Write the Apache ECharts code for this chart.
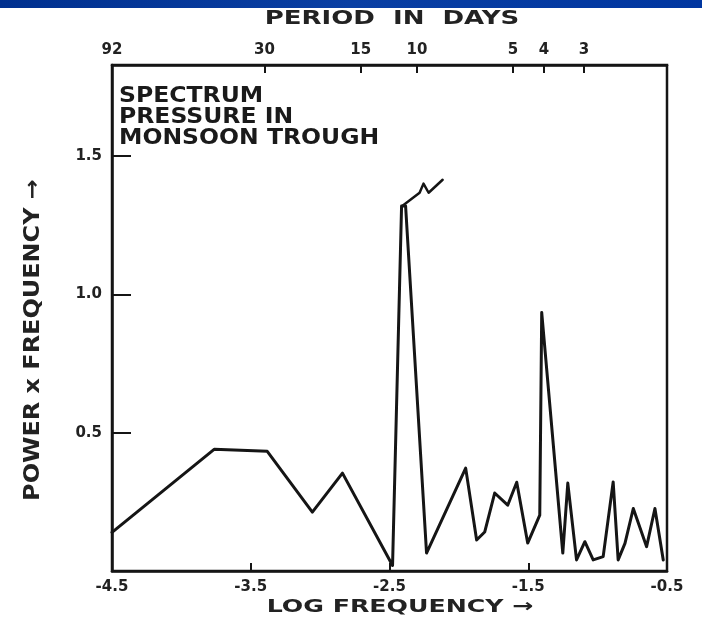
<!DOCTYPE html>
<html>
<head>
<meta charset="utf-8">
<script src="https://cdn.jsdelivr.net/npm/echarts@6/dist/echarts.min.js"></script>
<style>
html,body{margin:0;padding:0;background:#fff;}
#chart{width:702px;height:627px;}
</style>
</head>
<body>
<div id="chart"></div>
<script>
// ---- data ----
const logFreq = [-4.5, -3.764, -3.381, -3.056, -2.839, -2.478, -2.413, -2.384, -2.233, -1.951,
  -1.872, -1.814, -1.742, -1.648, -1.583, -1.504, -1.417, -1.403, -1.251, -1.215,
  -1.152, -1.092, -1.032, -0.960, -0.888, -0.852, -0.803, -0.743, -0.647, -0.587, -0.527];
const power = [0.14, 0.44, 0.433, 0.213, 0.354, 0.02, 1.32, 1.32, 0.065, 0.372,
  0.112, 0.141, 0.282, 0.238, 0.321, 0.101, 0.202, 0.935, 0.065, 0.318,
  0.04, 0.106, 0.04, 0.052, 0.322, 0.04, 0.10, 0.226, 0.088, 0.226, 0.04];
// axis-break marker drawn at the top of the off-scale peak
const breakX = [-2.406, -2.283, -2.255, -2.218, -2.117];
const breakY = [1.321, 1.368, 1.401, 1.368, 1.415];
const xTicks = [-4.5, -3.5, -2.5, -1.5, -0.5];
const yTicks = [0.5, 1.0, 1.5];
const periodDays = [92, 30, 15, 10, 5, 4, 3];
const titleTop = 'PERIOD  IN  DAYS';
const boxLines = ['SPECTRUM', 'PRESSURE IN', 'MONSOON TROUGH'];
const xName = 'LOG FREQUENCY \u2192';
const yName = 'POWER x FREQUENCY \u2192';

const X_MIN = -4.5, X_MAX = -0.5;
// log frequency (natural log of 1/period) of each period, kept inside the axis range
const periodPos = periodDays.map(p => Math.max(X_MIN, -Math.log(p)));
const ink = '#151515';
const font = '"DejaVu Sans", sans-serif';

const chart = echarts.init(document.getElementById('chart'), null, {renderer: 'canvas'});

function zip(a, b) { return a.map((v, i) => [v, b[i]]); }
function periodLabel(v) {
  let best = 0, d = Infinity;
  periodPos.forEach((p, i) => { const e = Math.abs(p - v); if (e < d) { d = e; best = i; } });
  return String(periodDays[best]);
}

const option = {
  animation: false,
  backgroundColor: '#ffffff',
  grid: {left: 112, right: 35, top: 65, bottom: 56, show: true, borderColor: ink, borderWidth: 2.5, containLabel: false},
  xAxis: [{
    type: 'value', min: X_MIN, max: X_MAX, interval: 1, position: 'bottom',
    axisLine: {show: true, lineStyle: {color: ink, width: 2.5}},
    axisTick: {show: true, inside: true, length: 8, lineStyle: {color: ink, width: 2}, customValues: xTicks},
    axisLabel: {show: true, color: '#222', fontFamily: font, fontWeight: 'bold', fontSize: 15, margin: 9,
      customValues: xTicks, formatter: v => v.toFixed(1)},
    splitLine: {show: false}
  }, {
    type: 'value', min: X_MIN, max: X_MAX, position: 'top',
    axisLine: {show: true, lineStyle: {color: ink, width: 2.5}},
    axisTick: {show: true, inside: true, length: 8, lineStyle: {color: ink, width: 2}, customValues: periodPos.slice(1)},
    axisLabel: {show: true, color: '#222', fontFamily: font, fontWeight: 'bold', fontSize: 15, margin: 7,
      customValues: periodPos, formatter: periodLabel},
    splitLine: {show: false}
  }],
  yAxis: [{
    type: 'value', min: 0, max: 1.83,
    axisLine: {show: true, lineStyle: {color: ink, width: 2.5}},
    axisTick: {show: true, inside: true, length: 19, lineStyle: {color: ink, width: 2}, customValues: yTicks},
    axisLabel: {show: true, color: '#222', fontFamily: font, fontWeight: 'bold', fontSize: 15, margin: 10,
      customValues: yTicks, formatter: v => v.toFixed(1)},
    splitLine: {show: false}
  }],
  series: [{
    type: 'line', xAxisIndex: 0, yAxisIndex: 0, data: zip(logFreq, power),
    showSymbol: false, symbol: 'none', silent: true,
    lineStyle: {color: ink, width: 3, cap: 'round', join: 'round'}
  }, {
    type: 'line', xAxisIndex: 0, yAxisIndex: 0, data: zip(breakX, breakY),
    showSymbol: false, symbol: 'none', silent: true,
    lineStyle: {color: ink, width: 2.5, cap: 'round', join: 'round'}
  }],
  graphic: [
    {type: 'rect', left: 0, top: 0, shape: {width: 702, height: 8},
     style: {fill: new echarts.graphic.LinearGradient(0, 0, 1, 0, [
       {offset: 0, color: '#00308f'}, {offset: 0.5, color: '#0a3fa3'}, {offset: 1, color: '#0036a0'}])}},
    {type: 'text', x: 392, y: 19, scaleX: 1.3,
     style: {text: titleTop, font: 'bold 20px ' + font, fill: '#222', align: 'center', verticalAlign: 'middle', textAlign: 'center', textVerticalAlign: 'middle'}},
    {type: 'text', x: 119, y: 97, scaleX: 1.12,
     style: {text: boxLines[0], font: 'bold 21px ' + font, fill: '#1a1a1a', align: 'left', verticalAlign: 'middle', textAlign: 'left', textVerticalAlign: 'middle'}},
    {type: 'text', x: 119, y: 118, scaleX: 1.12,
     style: {text: boxLines[1], font: 'bold 21px ' + font, fill: '#1a1a1a', align: 'left', verticalAlign: 'middle', textAlign: 'left', textVerticalAlign: 'middle'}},
    {type: 'text', x: 119, y: 139, scaleX: 1.12,
     style: {text: boxLines[2], font: 'bold 21px ' + font, fill: '#1a1a1a', align: 'left', verticalAlign: 'middle', textAlign: 'left', textVerticalAlign: 'middle'}},
    {type: 'text', x: 400, y: 607, scaleX: 1.4,
     style: {text: xName, font: 'bold 18px ' + font, fill: '#222', align: 'center', verticalAlign: 'middle', textAlign: 'center', textVerticalAlign: 'middle'}},
    {type: 'text', x: 34, y: 340, rotation: Math.PI / 2, scaleX: 1.14,
     style: {text: yName, font: 'bold 21px ' + font, fill: '#222', align: 'center', verticalAlign: 'middle', textAlign: 'center', textVerticalAlign: 'middle'}}
  ]
};
chart.setOption(option);
</script>
</body>
</html>
